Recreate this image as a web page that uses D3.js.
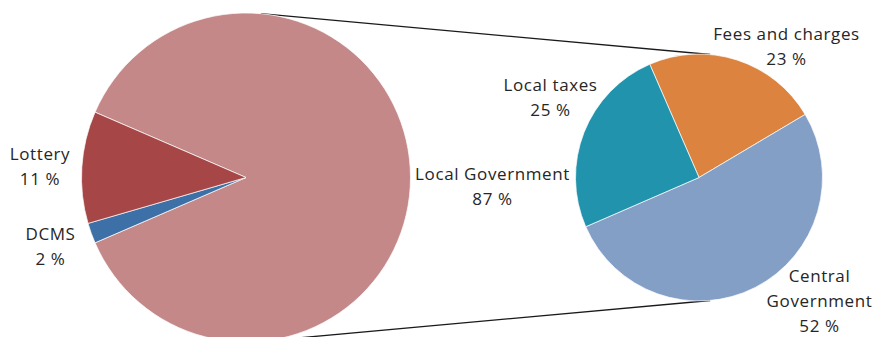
<!DOCTYPE html>
<html>
<head>
<meta charset="utf-8">
<script src="https://cdn.jsdelivr.net/npm/d3@7"></script>
<style>
  html, body { margin: 0; padding: 0; background: #ffffff; }
  svg { display: block; }
  text { font-family: "Open Sans", "Noto Sans", sans-serif; fill: #262626; letter-spacing: 0.6px; }
</style>
</head>
<body>
<svg id="chart" width="878" height="337"></svg>
<script>
// Funding sources (%)
const mainCategories = ["Local Government", "DCMS", "Lottery"];
const mainValues = [87, 2, 11];
const mainColors = ["#c48889", "#3d70a6", "#a64646"];

// Breakdown of local government funding (%)
const subCategories = ["Fees and charges", "Central Government", "Local taxes"];
const subValues = [23, 52, 25];
const subColors = ["#dc843f", "#839fc6", "#2193ac"];

// Label lines for each slice (name split across lines, then value)
const mainLabelLines = [["Local Government"], ["DCMS"], ["Lottery"]];
const subLabelLines = [["Fees and charges"], ["Central", "Government"], ["Local taxes"]];

const W = 878, H = 337;
const deg = Math.PI / 180;

// Pie geometry
const big = { cx: 246, cy: 177.5, r: 164.5 };
const small = { cx: 699, cy: 177.5, r: 123.5 };

// Label anchors: centre x and first baseline y
const mainLabelPos = [[492.5, 180], [50.5, 240], [40, 159.5]];
const subLabelPos = [[786.5, 40], [819.5, 282], [550.5, 90.5]];
const lineGap = 25;

const svg = d3.select("#chart");
svg.append("rect").attr("width", W).attr("height", H).attr("fill", "#ffffff");

// Connector lines: external tangents of the two circles
const dx = small.cx - big.cx, dy = small.cy - big.cy;
const d = Math.hypot(dx, dy);
const vx = dx / d, vy = dy / d;
const k = (big.r - small.r) / d, h = Math.sqrt(1 - k * k);
[-1, 1].forEach(s => {
  const nx = vx * k - s * vy * h;
  const ny = vy * k + s * vx * h;
  svg.append("line")
    .attr("x1", big.cx + big.r * nx).attr("y1", big.cy + big.r * ny)
    .attr("x2", small.cx + small.r * nx).attr("y2", small.cy + small.r * ny)
    .attr("stroke", "#1a1a1a").attr("stroke-width", 1.3);
});

function drawPie(center, values, colors, startDeg) {
  const span = 360 * deg;
  const pie = d3.pie().sort(null)
    .startAngle(startDeg * deg).endAngle(startDeg * deg + span);
  const arc = d3.arc().innerRadius(0).outerRadius(center.r);
  const g = svg.append("g").attr("transform", `translate(${center.cx},${center.cy})`);
  g.selectAll("path").data(pie(values)).join("path")
    .attr("d", arc)
    .attr("fill", (dd, i) => colors[i])
    .attr("stroke", "#ffffff").attr("stroke-width", 0.7)
    .attr("stroke-linejoin", "round");
}

// Main pie: local government slice centred at 3 o'clock
const lgSpan = mainValues[0] / d3.sum(mainValues) * 360;
drawPie(big, mainValues, mainColors, 90 - lgSpan / 2);
// Breakdown pie
drawPie(small, subValues, subColors, -23.5);

function drawLabels(lines, values, pos) {
  lines.forEach((ls, i) => {
    const t = svg.append("text")
      .attr("text-anchor", "middle")
      .attr("font-size", 17);
    const all = ls.concat([values[i] + " %"]);
    all.forEach((s, j) => {
      t.append("tspan")
        .attr("x", pos[i][0])
        .attr("y", pos[i][1] + j * lineGap)
        .text(s);
    });
  });
}
drawLabels(mainLabelLines, mainValues, mainLabelPos);
drawLabels(subLabelLines, subValues, subLabelPos);
</script>
</body>
</html>
